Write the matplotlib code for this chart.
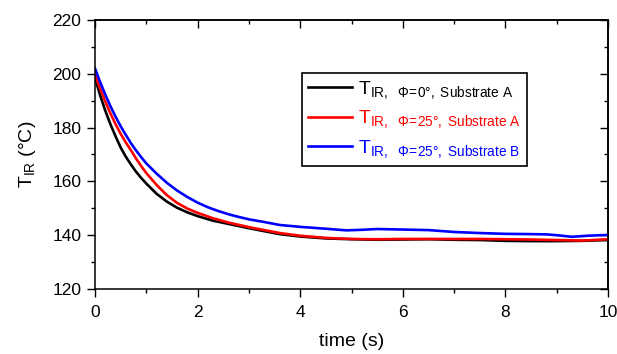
import matplotlib
matplotlib.use("Agg")
import matplotlib.pyplot as plt
from matplotlib.ticker import MultipleLocator

plt.rcParams['font.family'] = ['Liberation Sans', 'DejaVu Sans']
plt.rcParams['mathtext.fontset'] = 'custom'
plt.rcParams['mathtext.rm'] = 'Liberation Sans'
plt.rcParams['mathtext.it'] = 'Liberation Sans'

# Data
t_a = [0, 0.1, 0.2, 0.3, 0.4, 0.5, 0.6, 0.7, 0.8, 0.9, 1.0, 1.2, 1.4, 1.6, 1.8,
       2.0, 2.3, 2.6, 3.0, 3.6, 4.0, 4.5, 5.0, 5.5, 6.0, 6.5, 7.0, 7.5, 8.0,
       8.5, 9.0, 9.5, 10.0]
temp_phi0_A = [198.5, 192.0, 186.3, 181.3, 176.8, 172.6, 169.2, 166.3, 163.6,
               161.3, 159.2, 155.4, 152.5, 150.2, 148.5, 147.1, 145.4, 144.2,
               142.6, 140.4, 139.5, 138.8, 138.5, 138.3, 138.4, 138.5, 138.3,
               138.2, 137.9, 137.8, 137.8, 137.9, 138.2]
temp_phi25_A = [199.5, 194.5, 189.7, 185.3, 181.3, 177.7, 174.5, 171.6, 168.5,
                165.7, 163.1, 158.7, 154.9, 152.0, 149.9, 148.3, 146.3, 144.7,
                143.0, 140.8, 139.8, 139.0, 138.6, 138.5, 138.6, 138.6, 138.6,
                138.6, 138.5, 138.4, 138.2, 138.0, 138.5]
t_b = [0, 0.1, 0.2, 0.3, 0.4, 0.5, 0.6, 0.7, 0.8, 0.9, 1.0, 1.2, 1.4, 1.6, 1.8,
       2.0, 2.2, 2.4, 2.6, 2.8, 3.0, 3.3, 3.6, 4.0, 4.5, 4.9, 5.2, 5.5, 6.0,
       6.5, 7.0, 7.5, 8.0, 8.5, 8.8, 9.0, 9.3, 9.6, 10.0]
temp_phi25_B = [202.0, 196.9, 192.3, 188.0, 184.1, 180.5, 177.3, 174.2, 171.5,
                169.0, 166.7, 162.9, 159.5, 156.6, 154.2, 152.1, 150.4, 149.0,
                147.8, 146.8, 145.9, 144.9, 143.8, 143.1, 142.4, 141.8, 142.0,
                142.3, 142.1, 141.9, 141.2, 140.8, 140.5, 140.4, 140.3, 140.0,
                139.4, 139.8, 140.1]

labels = [r"T$_{\mathrm{IR,\ \ \Phi\!=\!0°,\ Substrate\ A}}$",
          r"T$_{\mathrm{IR,\ \ \Phi\!=\!25°,\ Substrate\ A}}$",
          r"T$_{\mathrm{IR,\ \ \Phi\!=\!25°,\ Substrate\ B}}$"]
colors = ['black', 'red', 'blue']

fig = plt.figure(figsize=(6.17, 3.54), dpi=100)
ax = fig.add_axes([95/617, 1-289/354, 513/617, 269/354])

ax.plot(t_a, temp_phi0_A, color=colors[0], lw=1.9, label=labels[0])
ax.plot(t_a, temp_phi25_A, color=colors[1], lw=1.9, label=labels[1])
ax.plot(t_b, temp_phi25_B, color=colors[2], lw=1.9, label=labels[2])

ax.set_xlim(0, 10)
ax.set_ylim(120, 220)
ax.xaxis.set_major_locator(MultipleLocator(2))
ax.xaxis.set_minor_locator(MultipleLocator(1))
ax.yaxis.set_major_locator(MultipleLocator(20))
ax.yaxis.set_minor_locator(MultipleLocator(10))
ax.tick_params(which='major', direction='out', length=5.8, width=1.0,
               labelsize=12.5)
ax.tick_params(axis='x', which='major', pad=6)
ax.tick_params(axis='y', which='major', pad=4)
ax.tick_params(which='minor', direction='out', length=3, width=1.0)
for s in ax.spines.values():
    s.set_linewidth(1.1)

secx = ax.secondary_xaxis('top')
secx.xaxis.set_major_locator(MultipleLocator(2))
secx.xaxis.set_minor_locator(MultipleLocator(1))
secx.tick_params(which='major', direction='in', length=5.8, width=1.0, labeltop=False)
secx.tick_params(which='minor', direction='in', length=3, width=1.0)
secx.spines['top'].set_linewidth(1.1)
secy = ax.secondary_yaxis('right')
secy.yaxis.set_major_locator(MultipleLocator(20))
secy.yaxis.set_minor_locator(MultipleLocator(10))
secy.tick_params(which='major', direction='in', length=5.8, width=1.0, labelright=False)
secy.tick_params(which='minor', direction='in', length=3, width=1.0)
secy.spines['right'].set_linewidth(1.1)

ax.set_xlabel('time (s)', fontsize=14, labelpad=9)
ax.set_ylabel(r'T$_{\mathrm{IR}}$ (°C)', fontsize=14, labelpad=10)

leg = ax.legend(loc='upper left', bbox_to_anchor=(0.403, 0.803),
                borderaxespad=0, fontsize=14, handlelength=2.3,
                handletextpad=0.3, labelspacing=0.4, borderpad=0.3,
                fancybox=False, framealpha=1, edgecolor='black')
leg.get_frame().set_linewidth(1.2)
for txt, c in zip(leg.get_texts(), colors):
    txt.set_color(c)

fig.savefig('out.png', dpi=100)
